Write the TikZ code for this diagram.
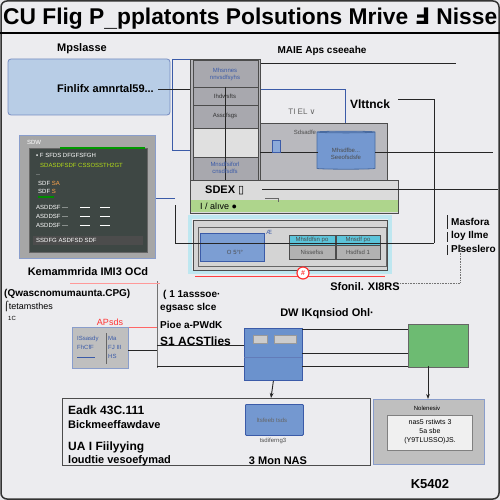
\documentclass[tikz,border=0pt]{standalone}
\usepackage{fontspec}
\setmainfont{Liberation Sans}
\newfontfamily\dv{DejaVu Sans}
\usetikzlibrary{shapes.geometric,arrows.meta}
\definecolor{bgc}{HTML}{E6E6EA}
\definecolor{panel}{HTML}{ECECEF}
\definecolor{lblue}{HTML}{B8CDE6}
\definecolor{mblue}{HTML}{5B86C8}
\definecolor{dblue}{HTML}{3B5BA8}
\definecolor{gbox}{HTML}{B4B4B8}
\definecolor{gcell}{HTML}{A8A8AE}
\definecolor{lgreen}{HTML}{AED58C}
\definecolor{ggreen}{HTML}{6DBB72}
\definecolor{cyanc}{HTML}{5CC4DA}
\definecolor{scr}{HTML}{3E4744}
\tikzset{
  lbl/.style={font=\bfseries\fontsize{11}{12}\selectfont, inner sep=0pt},
  slbl/.style={font=\fontsize{9}{10}\selectfont, inner sep=0pt},
  tiny/.style={font=\fontsize{6}{7}\selectfont, inner sep=0pt},
  wire/.style={line width=0.9pt, black!85},
  bwire/.style={line width=0.9pt, dblue},
  gwire/.style={line width=0.6pt, black!55},
  arr/.style={wire, -{Stealth[length=5pt]}},
  graybox/.style={draw=black!70, fill=gbox, line width=0.9pt},
}
\begin{document}
\begin{tikzpicture}[x=1pt,y=-1pt]
\useasboundingbox (0,0) rectangle (500,500);
\fill[bgc] (0,0) rectangle (500,500);
\draw[black!80, line width=1.5pt, rounded corners=6pt, fill=panel] (1,1) rectangle (499,499);
% title
\node[anchor=west, inner sep=0pt, font=\bfseries] (title) at (3,19) {\resizebox{494pt}{!}{\fontsize{25}{26}\selectfont CU Flig P\raisebox{-2pt}{\_}pplatonts Polsutions Mrive {\dv Ⅎ} Nisse}};
\draw[black, line width=2.2pt] (0,33) -- (500,33);
% top labels
\node[lbl] (mpl) at (82,49) {Mpslasse};
\node[lbl, font=\bfseries\fontsize{10}{11}\selectfont] (maie) at (322,51) {MAIE Aps cseeahe};
\draw[wire] (255,63) -- (456,63);
% light blue box
\node[draw=dblue!70, fill=lblue, rounded corners=3pt, minimum width=162pt, minimum height=56pt, line width=0.8pt] (lb) at (89,87) {};
\node[lbl, anchor=east] (fin) at (154,89) {Finlifx amnrtal59...};
\draw[bwire] (172,59) -- (172,150) -- (190,150);
\draw[bwire] (172,59) -- (192,59);
\draw[wire] (158,89) -- (192,89);
\draw[bwire] (259,89) -- (345,89) -- (345,133);
% gray box behind cylinder
\node[graybox, fill=gcell!80, minimum width=197pt, minimum height=57pt, anchor=north west] (cylbox) at (190,123) {};
% column stack
\node[graybox, minimum width=70pt, minimum height=126pt, anchor=north west] (stack) at (190,59) {};
\foreach \ya/\yb/\c in {60/87/gcell,87/105/gcell,105/128/gcell,128/157/black!12,157/180/gcell}{
  \draw[black!70, fill=\c] (193,\ya) rectangle (258,\yb);
}
\draw[wire] (225,87) -- (225,185);
\node[tiny, text=dblue, align=center] (s1) at (225,74) {Mhsnnes\\nnvsdfsyhs};
\node[tiny, text=black!80] (s2) at (225,96) {Ihdwsfts};
\node[tiny, text=black!80] (s3) at (225,116) {Assdfsgs};
\node[tiny, text=dblue, align=center] (s5) at (225,168) {Mnsdfsiforl\\cnsdfsdfs};
% cylinder
\node[cylinder, shape border rotate=90, aspect=0.25, draw=mblue!80!black, fill=mblue!85, minimum width=58pt, minimum height=38pt, line width=0.8pt] (cyl) at (346,151) {};
\node[tiny, text=black!70, align=center] (cyt) at (346,154) {Mhsdfbe...\\Seeofsdsfe};
\draw[wire] (375,152) -- (493,152);
\draw[wire] (260,152) -- (318,152);
\node[draw=dblue, fill=mblue!70, minimum width=8pt, minimum height=12pt, inner sep=0pt] (icon) at (276,146) {};
\node[tiny, text=black!60, font=\fontsize{8}{9}\selectfont] (tiel) at (302,112) {TI EL {\dv ∨}};
\node[tiny, text=black!70] (t2) at (305,132) {Sdsadfe};
% Vlttnck
\node[lbl, font=\bfseries\fontsize{12}{13}\selectfont] (vl) at (370,104) {Vlttnck};
\draw[wire] (398,99) -- (434,99) -- (434,243);
% SDEX box
\node[graybox, fill=black!14, minimum width=208pt, minimum height=33pt, anchor=north west] (sdex) at (190,180) {};
\draw[wire] (262,189) -- (498,189);
\fill[lgreen] (191,200) rectangle (398,212);
\node[lbl, anchor=west] (sdt) at (205,190) {SDEX {\dv ▯}};
\node[slbl, anchor=west] (alv) at (200,206) {I / alıve ●};
\draw[black!60] (265,198) -- (278,198) -- (278,202);
% cyan glow box
\draw[cyanc!40, line width=4pt] (190,217) rectangle (390,272);
\node[graybox, fill=black!17, minimum width=194pt, minimum height=50pt, anchor=north west] (glow) at (193,220) {};
\draw[black!60, line width=0.6pt] (198,227) rectangle (386,266);
\node[draw=dblue, fill=mblue!80, minimum width=64pt, minimum height=28pt, line width=0.8pt] (bb) at (232,247) {};
\node[tiny, text=black!70] (bbt) at (235,252) {O 5°I°};
\node[draw=black!70, fill=cyanc, minimum width=46pt, minimum height=10pt, anchor=north west] (c1t) at (289,235) {};
\node[draw=black!70, fill=black!30, minimum width=46pt, minimum height=14pt, anchor=north west] (c1b) at (289,245) {};
\node[draw=black!70, fill=cyanc, minimum width=44pt, minimum height=10pt, anchor=north west] (c2t) at (336,235) {};
\node[draw=black!70, fill=black!30, minimum width=44pt, minimum height=14pt, anchor=north west] (c2b) at (336,245) {};
\node[tiny, text=black!70] at (312,240) {Mhsfdfsn po};
\node[tiny, text=black!70] at (358,240) {Mnsdf po};
\node[tiny, text=black!70] at (312,252) {Nissefss};
\node[tiny, text=black!70] at (358,252) {Hsdfsd 1};
\node[tiny, text=dblue] at (269,232) {Æ};
\draw[wire] (175,243) -- (434,243);
\draw[wire] (175,205) -- (175,243);
\draw[bwire] (155,198) -- (175,198);
% red line
\draw[red!75, line width=1pt] (195,276) -- (385,276);
\node[circle, draw=red!80, fill=white, line width=1.2pt, minimum size=12pt, inner sep=0pt, font=\bfseries\fontsize{7}{7}\selectfont, text=red!80] (red) at (303,273) {\#};
\node[lbl] (sfo) at (365,287) {Sfonil. XI8RS};
\draw[gwire, densely dotted] (400,283) -- (460,283) -- (460,245);
% right labels
\node[lbl, anchor=west, font=\bfseries\fontsize{10}{11}\selectfont] (ma) at (451,222) {Masfora};
\node[lbl, anchor=west, font=\bfseries\fontsize{10}{11}\selectfont] (lo) at (451,236) {loy Ilme};
\node[lbl, anchor=west, font=\bfseries\fontsize{10}{11}\selectfont] (pl) at (451,249) {Plseslero};
\draw[wire] (447,215) -- (447,229) (447,232) -- (447,242) (447,245) -- (447,255);
% monitor
\node[draw=dblue!60, fill=black!35, line width=1.2pt, minimum width=136pt, minimum height=123pt, anchor=north west] (mon) at (19,135) {};
\node[draw=black!60, fill=scr, minimum width=118pt, minimum height=104pt, anchor=north west] (screen) at (29,148) {};
\node[tiny, text=white!80] at (34,142) {SDW};
\fill[green!60!black] (60,147) rectangle (145,149);
\node[tiny, text=white!70, anchor=west] at (36,155) {▪ F SFDS DFGFSFGH};
\node[tiny, text=yellow!70!green, anchor=west] at (40,165) {SDASDFSDF CSSOSSTH2GT};
\node[tiny, text=white!60, anchor=west] at (36,175) {{\dv ‥}};
\node[tiny, text=white!60, anchor=west] at (38,183) {SDF  \textcolor{orange!70}{SA}};
\node[tiny, text=white!60, anchor=west] at (38,191) {SDF  \textcolor{orange!70}{S}};
\fill[green!55!black] (38,196) rectangle (54,198);
\foreach \yy in {207,216,225}{
  \node[tiny, text=white!70, anchor=west] at (36,\yy) {ASDDSF —};
  \draw[white!60, line width=1pt] (80,\yy) -- (90,\yy) (100,\yy) -- (110,\yy);
}
\fill[black!70] (33,236) rectangle (143,245);
\node[tiny, text=white!70, anchor=west] at (36,240) {SSDFG ASDFSD SDF};
\node[lbl] (kem) at (88,272) {Kemammrida IMI3 OCd};
% left lower texts
\node[lbl, anchor=west, font=\bfseries\fontsize{10}{11}\selectfont] (qw) at (4,294) {(Qwascnomumaunta.CPG)};
\node[slbl, anchor=west] (te) at (4,306) {{\dv ⌠}tetamsthes};
\node[tiny, anchor=west] (ic) at (8,318) {1C};
\draw[gwire] (157,281) -- (157,368);
\draw[red!60, line width=0.6pt] (120,327) -- (157,327);
\draw[red!40, line width=0.6pt] (70,283) -- (160,283);
\node[lbl, anchor=west, font=\bfseries\fontsize{10}{11}\selectfont] (ss) at (163,295) {( 1 1asssoe·};
\node[lbl, anchor=west, font=\bfseries\fontsize{10}{11}\selectfont] (eg) at (160,308) {egsasc slce};
\node[lbl, anchor=west, font=\bfseries\fontsize{10}{11}\selectfont] (pio) at (160,325) {Pioe a-PWdK};
\node[lbl, anchor=west, font=\bfseries\fontsize{12}{13}\selectfont] (acs) at (160,341) {S1 ACSTlies};
% small box
\node[draw=dblue!60, fill=black!25, line width=0.8pt, minimum width=56pt, minimum height=41pt, anchor=north west] (sb) at (72,327) {};
\node[tiny, text=dblue, anchor=west, align=left] at (77,347) {ISsasdy\\[2pt]FhCfF\\[2pt]\rule{18pt}{1pt}};
\draw[black!60] (106,333) -- (106,364);
\node[tiny, text=dblue, anchor=west, align=left] at (108,347) {Ma\\[2pt]FJ III\\[2pt]HS};
\node[slbl, text=red!80] (aps) at (110,322) {APsds};
\draw[wire] (128,350) -- (157,350);
\draw[wire] (157,345) -- (244,345);
\draw[wire] (157,366) -- (244,366);
% DW label
\node[lbl] (dw) at (327,314) {DW IKqnsiod Ohl·};
% blue box
\node[draw=dblue, fill=mblue!90, line width=0.8pt, minimum width=58pt, minimum height=52pt, anchor=north west] (bbx) at (244,328) {};
\draw[dblue!80] (244,357) -- (302,357);
\node[draw=black!40, fill=black!20, minimum width=14pt, minimum height=8pt] at (260,339) {};
\node[draw=black!40, fill=black!20, minimum width=22pt, minimum height=8pt] at (285,339) {};
\draw[wire] (302,329) -- (408,329);
\draw[wire] (302,353) -- (408,353);
\draw[wire] (302,366) -- (408,366);
% green box
\node[draw=black!60, fill=ggreen, line width=0.8pt, minimum width=60pt, minimum height=43pt, anchor=north west] (gb) at (408,324) {};
% bottom box
\node[draw=black!70, line width=0.8pt, minimum width=308pt, minimum height=67pt, anchor=north west] (bot) at (62,398) {};
\node[lbl, anchor=west, font=\bfseries\fontsize{12}{13}\selectfont] at (68,410) {Eadk  43C.111};
\node[lbl, anchor=west] at (68,425) {Bickmeeffawdave};
\node[lbl, anchor=west, font=\bfseries\fontsize{12}{13}\selectfont] at (68,447) {UA I Fiilyying};
\node[lbl, anchor=west] at (68,461) {loudtie vesoefymad};
\node[draw=dblue, fill=mblue!85, line width=0.8pt, minimum width=58pt, minimum height=31pt, anchor=north west, rounded corners=1pt] (bb2) at (245,404) {};
\node[tiny, text=black!60] at (272,420) {ltsfeeb tsds};
\node[tiny, text=black!70] at (273,441) {tsdiferng3};
\node[lbl] at (278,461) {3 Mon NAS};
% right bottom box
\node[draw=dblue!60, fill=black!25, line width=1pt, minimum width=111pt, minimum height=65pt, anchor=north west] (rb) at (373,399) {};
\node[tiny] at (427,408) {Nolenesiv};
\node[draw=black!50, fill=black!6, minimum width=85pt, minimum height=35pt, anchor=north west] (wb) at (387,415) {};
\node[tiny, align=center, font=\fontsize{7}{9}\selectfont] at (430,432) {nas5 rstiwts 3\\5a sbe\\(Y9TLUSSO)JS.};
\node[lbl, font=\bfseries\fontsize{13}{14}\selectfont] (k5) at (430,484) {K5402};
% arrows
\draw[arr] (bbx.south) -- (271,398);
\draw[arr] (428,366) -- (428,399);
\end{tikzpicture}
\end{document}
